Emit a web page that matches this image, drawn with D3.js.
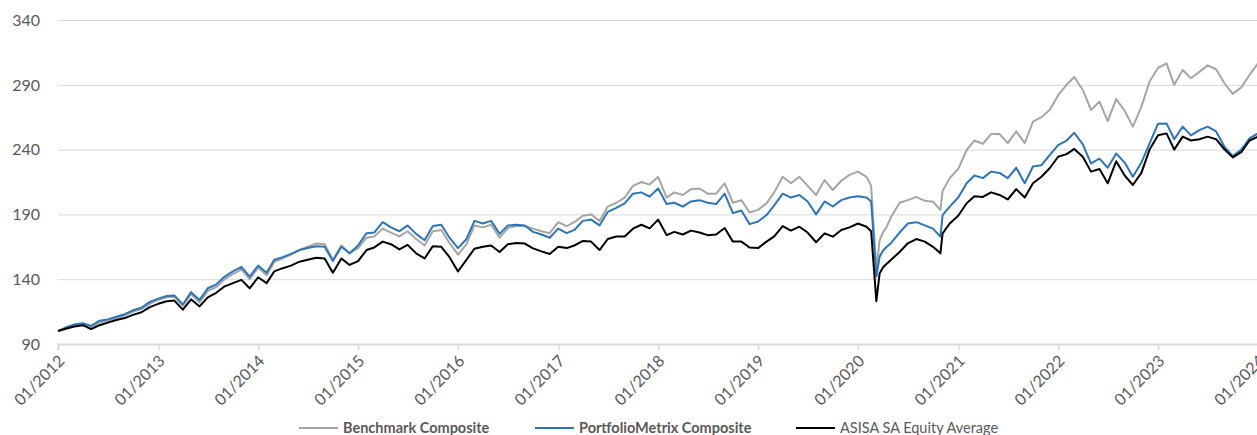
<!DOCTYPE html>
<head>
    <meta charset="UTF-8" />
    <style>
        body {
            margin: 0;
            padding: 0;
            background: #fff;
            font-family: Lato, "Open Sans", sans-serif;
        }
        .grid line { stroke: #d9d9d9; stroke-width: 1px; }
        .tick-label { fill: #595959; }
        .series { fill: none; stroke-width: 2px; stroke-linejoin: round; }
    </style>
    <title>Cumulative performance</title>
</head>

<svg width="1257" height="435"></svg>
<script src="https://d3js.org/d3.v7.min.js"></script>

<script>
    // month-start points (extra points around the 2020 crash)
    const dates = [
        "2012-01-01","2012-02-01","2012-03-01","2012-04-01","2012-05-01","2012-06-01","2012-07-01","2012-08-01","2012-09-01","2012-10-01","2012-11-01","2012-12-01",
        "2013-01-01","2013-02-01","2013-03-01","2013-04-01","2013-05-01","2013-06-01","2013-07-01","2013-08-01","2013-09-01","2013-10-01","2013-11-01","2013-12-01",
        "2014-01-01","2014-02-01","2014-03-01","2014-04-01","2014-05-01","2014-06-01","2014-07-01","2014-08-01","2014-09-01","2014-10-01","2014-11-01","2014-12-01",
        "2015-01-01","2015-02-01","2015-03-01","2015-04-01","2015-05-01","2015-06-01","2015-07-01","2015-08-01","2015-09-01","2015-10-01","2015-11-01","2015-12-01",
        "2016-01-01","2016-02-01","2016-03-01","2016-04-01","2016-05-01","2016-06-01","2016-07-01","2016-08-01","2016-09-01","2016-10-01","2016-11-01","2016-12-01",
        "2017-01-01","2017-02-01","2017-03-01","2017-04-01","2017-05-01","2017-06-01","2017-07-01","2017-08-01","2017-09-01","2017-10-01","2017-11-01","2017-12-01",
        "2018-01-01","2018-02-01","2018-03-01","2018-04-01","2018-05-01","2018-06-01","2018-07-01","2018-08-01","2018-09-01","2018-10-01","2018-11-01","2018-12-01",
        "2019-01-01","2019-02-01","2019-03-01","2019-04-01","2019-05-01","2019-06-01","2019-07-01","2019-08-01","2019-09-01","2019-10-01","2019-11-01","2019-12-01",
        "2020-01-01","2020-02-01","2020-02-18","2020-03-08","2020-03-20","2020-04-01","2020-04-15","2020-05-01","2020-06-01","2020-07-01","2020-08-01","2020-09-01","2020-10-01","2020-10-28","2020-11-05","2020-12-01",
        "2021-01-01","2021-02-01","2021-03-01","2021-04-01","2021-05-01","2021-06-01","2021-07-01","2021-08-01","2021-09-01","2021-10-01","2021-11-01","2021-12-01",
        "2022-01-01","2022-02-01","2022-03-01","2022-04-01","2022-05-01","2022-06-01","2022-07-01","2022-08-01","2022-09-01","2022-10-01","2022-11-01","2022-12-01",
        "2023-01-01","2023-02-01","2023-03-01","2023-04-01","2023-05-01","2023-06-01","2023-07-01","2023-08-01","2023-09-01","2023-10-01","2023-11-01","2023-12-01",
        "2024-01-01"
    ];

    const benchmark = [
        100,102,104,105,102.5,106.5,108,110,112,115,117,121,
        124,126,126.5,119.5,128.5,122,131,134,140,144,147.5,140,
        149,143,153.5,156,159,162.5,165,167.5,167,155,166,160,
        164,172,173,179,176,173,177,171,166,177,178,168,
        159,167,181.5,180,182,172,179.5,181,181,179,177,175.5,
        184,181,184,189,190,185,196,199,203,212,215,213,
        219,203,207,205,209.5,210,206,206,214,199,201,191.5,
        193.5,198.5,207,219,214,219,212,205,216.5,208.8,216,220.5,
        223,219,212,147,170,176,180.5,188,199,201,203.5,200.5,199.8,193.4,208,218,
        225,239.7,247,244.5,252,252,245,254,245,261.5,265,270.6,
        282,290,296,286,270.6,277,262,279,270,257.7,273,292.5,
        303,306.5,290,301.4,295,300,305,302,291,283,288,297.6,
        306.5
    ];

    const portfolio = [
        100,103,105,106,104,108,109,111,113,116,118,122.5,
        125,127,127.5,120.5,130,124,133,136,142,146,149.5,142,
        150.5,145,155,157,159.5,162.5,164,165.5,165,154,165,160,
        166,175.5,176,184,180,177,181.5,175,170,181,182,172,
        164,171,185,183,185,175,181.5,182,181.5,176.5,174.5,172,
        179,175.5,178,185,186,181.5,192,195,198.5,206,207,203.7,
        210,198,199,196,200,201,199,198,206,191,193,182.5,
        184.5,189.5,197,206,203,205,200,190,200,196.1,201,203,
        204,203,200,142,157.4,162,165,168,176,183,184,181.5,179,172.8,189.5,196,
        203,214,220,218,223,222,218,226,214,227,228,235.8,
        243.5,247,253,244,229.4,233,226,237,230,219,230,244.8,
        260,260.2,248,257.7,251,255,257.7,254,242,235,240,248.7,
        252.5
    ];

    const asisa = [
        100,102,103.5,104.5,101.5,104.5,106.5,108.5,110,112.5,114.5,118.5,
        121,123,123.5,116.5,124.5,119,126,129.5,134.5,137,139.5,133,
        141.5,137,146,148.5,150.5,153.5,155,156.5,156,145,156,151,
        154,162.5,164.5,169,167,163,166.5,160,156,165.5,165,157,
        146,155,163.5,165,166,161,167,168,167.5,163.8,161.5,159.5,
        165,164,166,169.5,169,162.5,171,173,173,179,182,179.2,
        186,174,176.5,174.5,177.5,176,174,174.5,179.5,169,169,164.5,
        164,169,173,181,177.5,180.5,176,168.5,175.4,172.8,178,180,
        183,180.5,177,123,144.5,149,152,155,161,167.7,171,169,165,160,175.4,183,
        189,198.6,204,203.5,207,205,201.5,209.5,203,214,219,225.6,
        234.5,236.5,240.5,234.5,223,225,214,231,220,212.7,222,240,
        251,252.5,240,250,247,248,250,248,240,234,238,247,
        250
    ];

    const yTicks = [90, 140, 190, 240, 290, 340];
    const xTickYears = d3.range(2012, 2025);

    const seriesNames = ["Benchmark Composite", "PortfolioMetrix Composite", "ASISA SA Equity Average"];
    const seriesColors = ["#a5a5a5", "#2e75b6", "#000000"];
    const seriesBold = [true, true, false];

    const svg = d3.select("svg");
    const plotLeft = 58, plotRight = 1258, plotTop = 20, plotBottom = 344;

    const parse = d3.timeParse("%Y-%m-%d");
    const t = dates.map(parse);

    const x = d3.scaleTime()
        .domain([new Date(2012, 0, 1), new Date(2024, 0, 1)])
        .range([plotLeft, plotRight]);
    const y = d3.scaleLinear().domain([90, 340]).range([plotBottom, plotTop]);

    // horizontal gridlines
    svg.append("g").attr("class", "grid")
        .selectAll("line")
        .data(yTicks.slice(1))
        .enter().append("line")
        .attr("x1", plotLeft).attr("x2", plotRight)
        .attr("y1", d => y(d) + 0.5).attr("y2", d => y(d) + 0.5);

    // y labels
    svg.append("g")
        .selectAll("text")
        .data(yTicks)
        .enter().append("text")
        .attr("class", "tick-label")
        .attr("x", 40)
        .attr("y", d => y(d))
        .attr("dy", "0.36em")
        .attr("text-anchor", "end")
        .style("font-size", "16px")
        .text(d => d);

    // x axis line + ticks
    const xAxis = svg.append("g")
        .attr("transform", `translate(0,${plotBottom})`)
        .call(d3.axisBottom(x)
            .tickValues(xTickYears.map(yr => new Date(yr, 0, 1)))
            .tickSize(6)
            .tickFormat(d3.timeFormat("%m/%Y")));
    xAxis.select(".domain").attr("stroke", "#d9d9d9").attr("stroke-width", 2);
    xAxis.selectAll(".tick line").attr("stroke", "#d9d9d9").attr("stroke-width", 1.5);
    xAxis.selectAll(".tick text")
        .attr("class", "tick-label")
        .attr("fill", "#595959")
        .style("font-size", "16px")
        .style("font-family", "Lato, 'Open Sans', sans-serif")
        .attr("text-anchor", "end")
        .attr("y", 0).attr("dy", 0)
        .attr("transform", "translate(7,18) rotate(-45)");

    // series
    const lineGen = yv => d3.line()
        .x((d, i) => x(t[i]))
        .y(d => y(d))(yv);

    [benchmark, portfolio, asisa].forEach((vals, i) => {
        svg.append("path")
            .attr("class", "series")
            .attr("stroke", seriesColors[i])
            .attr("d", lineGen(vals));
    });

    // legend
    const legendX = [299, 535, 796];
    const legend = svg.append("g").attr("transform", "translate(0,428)");
    seriesNames.forEach((name, i) => {
        legend.append("line")
            .attr("x1", legendX[i]).attr("x2", legendX[i] + 39)
            .attr("y1", 0).attr("y2", 0)
            .attr("stroke", seriesColors[i])
            .attr("stroke-width", 2);
        legend.append("text")
            .attr("x", legendX[i] + 44)
            .attr("y", 0)
            .attr("dy", "0.36em")
            .attr("fill", "#595959")
            .style("font-size", "14.5px")
            .style("font-weight", seriesBold[i] ? "bold" : "normal")
            .text(name);
    });
</script>
